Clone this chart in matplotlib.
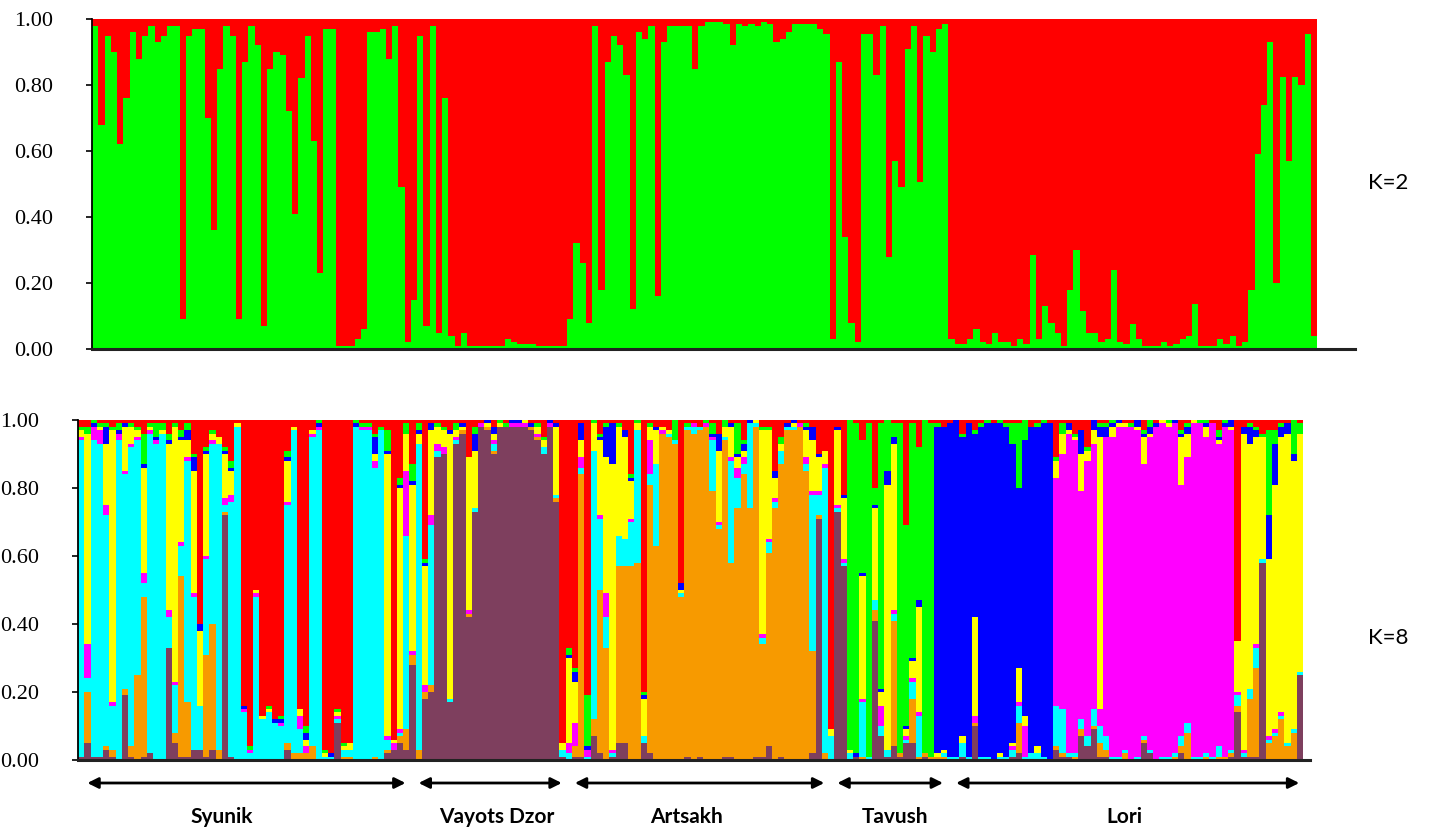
import numpy as np
import matplotlib
matplotlib.use('Agg')
import matplotlib.pyplot as plt
from matplotlib.transforms import blended_transform_factory

# ---------------- data ----------------
# K=2: proportion of the green cluster per individual (red = rest)
k2_green = [
    .98, .68, .95, .90, .62, .76, .96, .88, .95, .98,
    .93, .95, .98, .98, .09, .95, .97, .97, .70, .36,
    .85, .98, .95, .09, .87, .98, .92, .07, .85, .90,
    .89, .72, .41, .82, .95, .63, .23, .97, .97, .01,
    .01, .01, .03, .06, .96, .96, .97, .88, .98, .49,
    .02, .15, .95, .07, .98, .05, .76, .04, .01, .05,
    .01, .01, .01, .01, .01, .01, .03, .02, .015, .015,
    .015, .01, .01, .01, .01, .01, .09, .32, .26, .08,
    .98, .18, .87, .95, .92, .83, .12, .96, .94, .98,
    .16, .93, .98, .98, .98, .98, .85, .98, .99, .99,
    .99, .985, .92, .985, .98, .985, .98, .99, .985, .93,
    .94, .96, .985, .985, .985, .985, .97, .955, .03, .87,
    .34, .08, .02, .955, .955, .83, .98, .28, .57, .49,
    .91, .98, .505, .95, .90, .97, .985, .03, .015, .015,
    .03, .06, .02, .015, .05, .02, .02, .01, .03, .015,
    .285, .03, .13, .08, .05, .01, .18, .30, .115, .05,
    .05, .02, .03, .24, .02, .015, .075, .03, .01, .01,
    .01, .02, .01, .015, .03, .04, .135, .01, .01, .01,
    .03, .015, .04, .01, .02, .18, .59, .74, .93, .20,
    .825, .57, .825, .80, .955, .04,
]

# K=8: cluster proportions per individual, stacked bottom -> top
k8_purple = [
    .01, .05, .01, .01, .03, .01, 0, .19, .01, 0,
    .01, .02, 0, 0, .33, .05, .01, .01, .03, .03,
    .01, .03, 0, .72, .01, 0, 0, 0, 0, 0,
    0, 0, 0, .03, 0, 0, 0, 0, 0, 0,
    0, .11, 0, 0, 0, 0, 0, 0, 0, .02,
    .03, .05, .03, .28, 0, .18, .20, .89, .90, .17,
    .93, .96, .42, .73, .98, .97, .90, .98, .98, .98,
    .98, .98, .97, .94, .90, .98, .76, .01, 0, .01,
    .01, 0, .07, .02, 0, .01, .05, .05, 0, 0,
    .05, .02, 0, 0, 0, 0, 0, .01, 0, .01,
    0, 0, 0, .01, .01, 0, 0, 0, .01, .01,
    .04, 0, .01, 0, 0, 0, 0, .02, .71, 0,
    0, .73, .57, 0, .01, 0, 0, .41, .07, .01,
    .04, .01, .05, .05, 0, .01, 0, 0, 0, 0,
    0, .01, 0, .10, 0, 0, 0, 0, 0, .01,
    .02, 0, 0, 0, 0, 0, .03, .01, .01, 0,
    .07, .04, .09, .01, .01, 0, 0, 0, 0, 0,
    .05, .02, 0, 0, 0, 0, .02, 0, 0, 0,
    0, 0, 0, 0, .01, .14, .01, .01, .01, .58,
    0, 0, 0, 0, 0, .25,
]
k8_orange = [
    0, .15, 0, 0, .01, .02, 0, .02, .03, .25,
    .47, 0, 0, 0, 0, .03, .53, .16, 0, 0,
    .30, .37, .03, .01, 0, 0, 0, 0, 0, 0,
    0, 0, 0, .02, .02, .02, .02, .04, 0, 0,
    0, 0, .01, .01, 0, 0, 0, .01, 0, .01,
    0, .02, .06, .03, .03, .02, .02, 0, 0, 0,
    0, .01, .01, 0, 0, .01, .01, 0, 0, 0,
    0, 0, .01, .01, 0, 0, .01, 0, 0, .03,
    .83, 0, .05, .48, .33, 0, .52, .52, .57, .58,
    0, .79, .63, .96, .95, .93, .48, .96, .96, .96,
    .98, .79, .68, .93, .57, .74, .84, .74, .97, .33,
    .57, .74, .86, .97, .97, .98, .85, .30, .01, .02,
    0, 0, 0, 0, 0, .01, 0, .03, 0, 0,
    .37, .01, 0, .13, .01, .01, .01, .01, .01, 0,
    0, 0, 0, .01, 0, 0, 0, 0, 0, 0,
    .09, 0, 0, 0, 0, 0, .01, .01, 0, .01,
    .02, 0, .01, .04, .02, 0, 0, .02, 0, 0,
    .01, 0, 0, 0, 0, .01, .02, .08, 0, 0,
    .01, 0, .01, .01, .01, .02, 0, .17, .26, 0,
    .05, .07, .12, .04, .08, 0,
]
k8_cyan = [
    .93, .04, .93, .92, .68, .13, .94, .63, .88, .69,
    .04, .94, .93, .96, .09, .14, .09, .71, .45, .13,
    .28, .53, .90, .02, .75, .98, .14, .02, .48, .12,
    .14, .11, .10, .70, .95, .07, 0, .91, .97, .01,
    .01, .01, .02, .02, .98, .97, .97, .85, .97, .03,
    0, .01, .57, 0, .90, 0, .47, .02, 0, .01,
    .01, 0, 0, .01, 0, 0, .02, 0, 0, 0,
    0, 0, 0, 0, .02, 0, .01, .02, .02, 0,
    .02, .01, .79, .21, .09, .01, .09, .08, .13, .39,
    .02, .03, .24, 0, .01, .01, .01, .01, .02, .01,
    0, .15, .01, .01, .30, .09, .03, .25, .01, .02,
    .03, .02, .04, .01, .01, 0, .02, .46, .06, .84,
    .07, .01, .01, .02, 0, .16, .01, .03, .03, .02,
    .02, 0, .01, .05, .12, 0, 0, 0, .01, .01,
    .01, .04, .01, 0, .01, .01, 0, .01, .01, .02,
    .05, .01, .02, .02, .01, 0, .12, .13, .01, .01,
    .03, .03, .05, .05, .04, .01, .01, .01, 0, .01,
    .01, .01, 0, .01, .01, .01, .03, .03, .01, .01,
    .01, .01, .03, 0, .01, .03, .01, .03, .06, .01,
    .01, .01, .01, .01, .01, .01,
]
k8_magenta = [
    .01, .10, .04, .04, .03, .01, .02, .01, .01, .01,
    .03, .01, .01, 0, .02, .01, .01, .01, .01, 0,
    .01, .01, 0, .02, .02, 0, .01, .01, .01, 0,
    0, 0, .01, .01, 0, .04, .02, .01, .01, 0,
    0, .01, 0, 0, 0, .01, .01, .02, 0, .01,
    .02, .01, .19, .01, 0, .02, .03, .02, .02, 0,
    .01, 0, .01, 0, .01, 0, .01, 0, 0, .01,
    .01, .01, 0, .01, 0, .01, 0, 0, .03, .07,
    .03, .02, 0, .01, .07, .01, 0, 0, .01, 0,
    0, .10, 0, .01, 0, 0, 0, 0, .01, 0,
    .01, .01, .01, 0, .01, .03, .02, 0, 0, .01,
    .01, .01, 0, 0, 0, .01, .02, .01, .01, .01,
    0, .01, .01, 0, 0, .01, 0, 0, .06, 0,
    .01, 0, .01, .01, .01, 0, 0, 0, 0, 0,
    0, 0, 0, .02, 0, 0, 0, 0, 0, .01,
    .01, .09, 0, 0, 0, 0, .67, .75, .94, .92,
    .67, .81, .78, .05, .88, .94, .97, .95, .98, .96,
    .80, .92, .98, .98, .97, .97, .74, .78, .98, .98,
    .93, .98, .89, .97, .94, .01, .01, 0, .01, 0,
    .01, .01, .01, 0, 0, 0,
]
k8_yellow = [
    .02, .62, 0, .01, .18, .80, 0, .13, .05, .02,
    .31, .01, 0, .01, .49, .75, .30, .05, .36, .22,
    .30, .02, .02, .13, .07, .01, 0, 0, .01, .01,
    .01, 0, 0, .12, .01, .02, .02, .01, 0, .01,
    0, .01, .01, .02, 0, 0, 0, .02, 0, .83,
    .01, .71, .11, .49, .03, .35, .25, .05, .05, .78,
    .02, .01, .45, .17, 0, .01, .02, .01, 0, 0,
    0, .01, 0, .02, .02, 0, .20, .02, .25, .12,
    .05, 0, .08, .22, .40, .84, .32, .30, .11, .02,
    .11, .04, .10, .01, .01, 0, .01, 0, 0, 0,
    0, 0, .21, .03, .09, .03, .02, 0, .01, .60,
    .32, .06, .02, 0, .01, 0, .08, .15, .10, .04,
    .02, .22, .18, .01, 0, .36, 0, .27, .04, .78,
    .49, 0, .02, .05, .31, 0, 0, .01, .01, 0,
    0, .02, 0, .29, 0, 0, 0, .01, 0, .01,
    .10, .03, 0, .02, 0, 0, .05, .06, .01, .01,
    .11, .03, .04, .80, 0, .03, .01, .01, 0, .01,
    .08, .01, 0, .01, .01, 0, .14, .07, .01, 0,
    .03, 0, .01, 0, .01, .15, .93, .72, .61, .36,
    .52, .72, .81, .91, .79, .70,
]
k8_blue = [
    0, 0, .01, 0, .05, 0, .01, .01, 0, 0,
    .01, 0, .01, 0, .01, 0, .01, .03, .04, .02,
    .01, 0, 0, .01, .01, 0, .01, 0, 0, 0,
    0, .01, .01, .01, 0, 0, .02, 0, .01, 0,
    .01, 0, 0, 0, .01, 0, 0, .05, 0, .01,
    0, .01, 0, .01, .01, .01, .02, 0, 0, .01,
    0, .01, 0, .05, 0, .01, .02, 0, 0, .01,
    .01, 0, .01, 0, 0, .01, .01, 0, .01, .03,
    .05, .01, 0, .01, .09, .12, 0, .02, .01, 0,
    .01, 0, .01, 0, 0, 0, .02, 0, 0, 0,
    0, .01, .05, 0, .01, .01, .02, .01, 0, 0,
    0, .02, 0, .01, .01, 0, .01, .04, .01, 0,
    0, .01, .01, 0, .01, .01, 0, .01, .01, .04,
    .02, 0, .01, .01, .02, 0, 0, .96, .95, .98,
    .99, .88, .98, .54, .97, .98, .99, .97, .97, .88,
    .53, .81, .96, .94, .98, .99, 0, 0, .02, 0,
    .07, 0, .03, .03, .03, .01, .01, 0, 0, .02,
    .01, .02, .01, 0, 0, .01, .01, .02, 0, 0,
    .01, 0, .01, .01, .02, 0, .02, .05, .02, 0,
    .13, .12, .03, .03, .02, 0,
]
k8_green = [
    .01, .02, .01, .01, .01, .01, .02, 0, .01, .01,
    .09, .01, .04, .02, .02, .01, .02, .02, .01, 0,
    .01, .01, 0, .01, .02, 0, 0, .01, 0, 0,
    .01, 0, .01, .02, 0, 0, .02, 0, .01, .01,
    0, .01, .01, 0, .01, .01, .01, .01, .01, .06,
    0, .02, .03, .05, .02, .01, 0, .01, .01, 0,
    .02, 0, 0, .02, 0, 0, 0, .01, .01, 0,
    0, 0, 0, .01, .01, 0, 0, 0, .02, .01,
    0, .15, .01, .01, .01, 0, .01, 0, .01, .01,
    .01, .01, 0, 0, 0, .06, 0, .01, 0, 0,
    .01, .03, 0, .02, 0, .09, .01, 0, 0, .01,
    .01, 0, .02, 0, 0, 0, .01, 0, 0, 0,
    0, 0, 0, .97, .97, .39, .98, .05, .78, .15,
    .04, .97, .59, .69, .45, .98, .98, .01, 0, 0,
    0, .01, 0, .01, .01, .01, 0, .01, .01, .06,
    .19, .06, 0, .01, .01, 0, .01, .03, 0, .01,
    0, .01, 0, .01, .01, .01, 0, 0, .01, 0,
    .01, .02, 0, 0, .01, 0, .01, .01, 0, .01,
    .01, 0, .02, .01, 0, 0, 0, .01, .01, .01,
    .25, .04, .01, 0, .10, .03,
]
k8_red = [
    .02, .02, 0, .01, .01, .02, .01, .01, .01, .02,
    .04, .01, .01, .01, .04, .01, .03, .01, .10, .60,
    .08, .03, .05, .08, .12, .01, .84, .96, .50, .87,
    .84, .88, .87, .09, .02, .85, .90, .03, 0, .97,
    .98, .85, .95, .95, 0, .01, .01, .04, .02, .03,
    .94, .17, .01, .13, .01, .41, .01, .01, .02, .03,
    .01, .01, .11, .02, .01, 0, .02, 0, .01, 0,
    0, 0, .01, .01, .05, 0, .01, .95, .67, .73,
    .01, .81, 0, .04, .01, .01, .01, .03, .16, 0,
    .80, .01, .02, .02, .03, 0, .48, .01, .01, .02,
    0, .01, .04, 0, .01, .01, .06, 0, 0, .02,
    .02, .15, .05, .01, 0, .01, .01, .02, .10, .09,
    .91, .02, .22, 0, .01, .06, .01, .20, .01, 0,
    .01, .01, .31, .01, .08, 0, .01, .01, .02, .01,
    0, .04, .01, .03, .01, 0, .01, 0, .01, .01,
    .01, 0, .02, .01, 0, .01, .11, .01, .01, .04,
    .03, .08, 0, .01, .01, 0, 0, .01, .01, 0,
    .03, 0, .01, 0, 0, 0, .03, .01, 0, 0,
    0, .01, .03, 0, 0, .65, .02, .01, .02, .04,
    .03, .03, .01, .01, 0, .01,
]

populations = ['Syunik', 'Vayots Dzor', 'Artsakh', 'Tavush', 'Lori']
pop_sizes = [53, 25, 42, 19, 57]

# ---------------- styling ----------------
RED = '#ff0000'
GREEN = '#00ff00'
k8_layers = [
    (k8_purple, '#7e3f5e'),
    (k8_orange, '#f79a00'),
    (k8_cyan, '#00ffff'),
    (k8_magenta, '#ff00ff'),
    (k8_yellow, '#ffff00'),
    (k8_blue, '#0000ff'),
    (k8_green, GREEN),
    (k8_red, RED),
]

W, H = 1433, 832
fig = plt.figure(figsize=(W / 100, H / 100), dpi=100)


def px_axes(x0, x1, ytop, ybot):
    return fig.add_axes([x0 / W, 1 - ybot / H, (x1 - x0) / W, (ybot - ytop) / H])


def style_axes(ax, xmax):
    ax.set_xlim(0, xmax)
    ax.set_ylim(0, 1.0)
    ax.set_yticks(np.arange(0, 1.01, 0.2))
    ax.set_yticklabels([f'{v:.2f}' for v in np.arange(0, 1.01, 0.2)],
                       fontsize=16, family='Liberation Serif')
    ax.tick_params(axis='y', length=4, width=1.2, pad=24, direction='out')
    ax.set_xticks([])
    for s in ['top', 'right']:
        ax.spines[s].set_visible(False)
    ax.spines['left'].set_linewidth(1.3)
    ax.spines['bottom'].set_linewidth(2.2)
    ax.spines['bottom'].set_color('#222222')
    ax.set_facecolor('white')


n = len(k2_green)
x = np.arange(n)
bar_kw = dict(width=1.0, align='edge', linewidth=0, antialiased=False)

# Top panel, K=2
ax1 = px_axes(92, 1355, 19, 349)
g = np.array(k2_green)
ax1.bar(x, g, color=GREEN, **bar_kw)
ax1.bar(x, 1 - g, bottom=g, color=RED, **bar_kw)
style_axes(ax1, (1355 - 92) / 6.25)

# Bottom panel, K=8 (each individual normalised to sum 1)
ax2 = px_axes(78, 1310, 420, 760)
q = np.array([layer for layer, _ in k8_layers], dtype=float)
q = q / q.sum(axis=0)
bottom = np.zeros(n)
for vals, (_, col) in zip(q, k8_layers):
    ax2.bar(x, vals, bottom=bottom, color=col, **bar_kw)
    bottom += vals
style_axes(ax2, (1310 - 78) / 6.25)

fig.text(1368 / W, 1 - 183 / H, 'K=2', fontsize=16, family='Lato', va='center', ha='left')
fig.text(1368 / W, 1 - 638 / H, 'K=8', fontsize=16, family='Lato', va='center', ha='left')

# population arrows and labels under the K=8 panel
trans = blended_transform_factory(ax2.transData, fig.transFigure)
label_centres = [23.0, 67.0, 97.3, 130.7, 167.4]
y_arrow = 1 - 783 / H
y_label = 1 - 817 / H
start = 0
for name, size, xc in zip(populations, pop_sizes, label_centres):
    end = start + size
    ax2.annotate('', xy=(end - 0.6, y_arrow), xytext=(start + 1.5, y_arrow),
                 xycoords=trans, textcoords=trans, annotation_clip=False,
                 arrowprops=dict(arrowstyle='<|-|>', color='black', lw=2,
                                 mutation_scale=16, shrinkA=0, shrinkB=0))
    ax2.text(xc, y_label, name, transform=trans, ha='center', va='center',
             fontsize=15, fontweight='bold', family='Lato')
    start = end

fig.savefig('out.png', dpi=100)
